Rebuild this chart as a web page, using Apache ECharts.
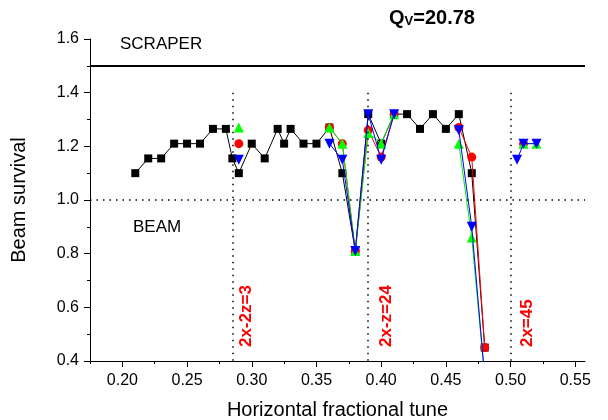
<!DOCTYPE html>
<html><head><meta charset="utf-8">
<script src="https://cdn.jsdelivr.net/npm/echarts@6/dist/echarts.min.js"></script>
<style>html,body{margin:0;padding:0;background:#fff}#c{width:608px;height:420px}</style>
</head><body><div id="c"></div>
<script>
// ---- data ----
var tuneBlack = [0.21,0.22,0.23,0.24,0.25,0.26,0.27,0.28,0.285,0.29,0.30,0.31,0.32,0.325,0.33,0.34,0.35,0.36,0.37,0.38,0.39,0.40,0.41,0.42,0.43,0.44,0.45,0.46,0.47,0.48];
var survBlack = [1.10,1.155,1.155,1.21,1.21,1.21,1.265,1.265,1.155,1.10,1.21,1.155,1.265,1.21,1.265,1.21,1.21,1.27,1.10,0.81,1.32,1.21,1.32,1.32,1.265,1.32,1.265,1.32,1.10,0.45];
var tuneRed = [0.29,0.33,0.36,0.37,0.38,0.39,0.40,0.41,0.44,0.46,0.47,0.48,0.50,0.51];
var survRed = [1.21,null,1.27,1.21,0.81,1.26,1.16,1.32,null,1.27,1.16,0.45,null,1.21];
var tuneGreen = [0.29,0.33,0.36,0.37,0.38,0.39,0.40,0.41,0.44,0.46,0.47,0.48,0.50,0.51,0.52];
var survGreen = [1.27,null,1.27,1.21,0.81,1.25,1.21,1.32,null,1.21,0.86,0.34,null,1.21,1.21];
var tuneBlue = [0.29,0.33,0.36,0.37,0.38,0.39,0.40,0.41,0.44,0.46,0.47,0.48,0.50,0.505,0.51,0.52];
var survBlue = [1.15,null,1.21,1.15,0.81,1.32,1.15,1.32,null,1.26,0.90,0.34,null,1.15,1.21,1.21];
var xTicks = [0.20,0.25,0.30,0.35,0.40,0.45,0.50,0.55];
var xMinorTicks = [0.175,0.225,0.275,0.325,0.375,0.425,0.475,0.525];
var yTicks = [0.4,0.6,0.8,1.0,1.2,1.4,1.6];
var scraperLevel = 1.5;
var beamLevel = 1.0;
var resonanceTunes = [0.285,0.39,0.50];
var resonanceTop = 1.4;
var resonanceLabels = ['2x-2z=3','2x-z=24','2x=45'];
var resonanceLabelTunes = [0.2955,0.4038,0.5132];
var resonanceLabelY = 0.452;

function pairs(xs, ys){ return xs.map(function(x,i){ return [x, ys[i]==null ? '-' : ys[i]]; }); }

var chart = echarts.init(document.getElementById('c'), null, {renderer:'canvas'});
var FONT = 'Arial, "Liberation Sans", sans-serif';
var vlines = resonanceTunes.map(function(t){ return [{coord:[t,resonanceTop]},{coord:[t,0.4]}]; });

chart.setOption({
  animation:false,
  backgroundColor:'#fff',
  textStyle:{fontFamily:FONT},
  grid:{left:90,right:23,top:39,bottom:59,containLabel:false,outerBoundsMode:'none'},
  xAxis:[{
    type:'value', min:0.175, max:0.5575,
    name:'Horizontal fractional tune', nameLocation:'middle', nameGap:39,
    nameTextStyle:{fontSize:20,color:'#000',fontFamily:FONT},
    axisLine:{show:true,lineStyle:{color:'#000',width:1}},
    axisTick:{show:true,customValues:xTicks,length:6,lineStyle:{color:'#000'}},
    axisLabel:{show:true,customValues:xTicks,formatter:function(v){return v.toFixed(2);},fontSize:16,color:'#000',margin:12,fontFamily:FONT},
    splitLine:{show:false}
  },{
    type:'value', min:0.175, max:0.5575, position:'bottom',
    axisLine:{show:false},
    axisTick:{show:true,customValues:xMinorTicks,length:3,lineStyle:{color:'#000'}},
    axisLabel:{show:false},
    splitLine:{show:false}
  }],
  yAxis:{
    type:'value', min:0.4, max:1.6, interval:0.2,
    name:'Beam survival', nameLocation:'middle', nameGap:61,
    nameTextStyle:{fontSize:20,color:'#000',fontFamily:FONT},
    axisLine:{show:true,lineStyle:{color:'#000',width:1}},
    axisTick:{show:true,length:6,lineStyle:{color:'#000'}},
    minorTick:{show:true,splitNumber:2,length:3,lineStyle:{color:'#000'}},
    axisLabel:{formatter:function(v){return v.toFixed(1);},fontSize:16,color:'#000',margin:11,fontFamily:FONT},
    splitLine:{show:false}
  },
  series:[
    {type:'line', data:pairs(tuneBlack,survBlack), symbol:'rect', symbolSize:8,
     itemStyle:{color:'#000'}, lineStyle:{color:'#000',width:1}, z:2,
     markLine:{silent:true, symbol:'none', label:{show:false}, animation:false,
       data:[
         {yAxis:scraperLevel, lineStyle:{color:'#000',width:2,type:'solid'}},
         {yAxis:beamLevel, lineStyle:{color:'#000',width:1.5,type:[1.5,5]}}
       ].concat(vlines.map(function(v){ v[0].lineStyle={color:'#000',width:1.5,type:[1.5,5]}; return v; }))
     }},
    {type:'line', data:pairs(tuneRed,survRed), symbol:'circle', symbolSize:9, connectNulls:false,
     itemStyle:{color:'#ff0000'}, lineStyle:{color:'#ff0000',width:1}, z:3},
    {type:'line', data:pairs(tuneGreen,survGreen), symbol:'triangle', symbolSize:10, connectNulls:false,
     itemStyle:{color:'#00ff00'}, lineStyle:{color:'#00ee00',width:1}, z:4},
    {type:'line', data:pairs(tuneBlue,survBlue), symbol:'triangle', symbolRotate:180, symbolSize:10, connectNulls:false,
     itemStyle:{color:'#0000ff'}, lineStyle:{color:'#0000ff',width:1}, z:5}
  ]
});

var g = [
  {type:'text', left:120, top:36, style:{text:'SCRAPER', fill:'#000', font:'17px '+FONT}},
  {type:'text', left:133, top:219, style:{text:'BEAM', fill:'#000', font:'17px '+FONT}},
  {type:'text', left:389, top:8, style:{
     text:'{q|Q}{s|V}{q|=20.78}',
     rich:{q:{fontSize:20,fontWeight:'bold',fontFamily:FONT,fill:'#000',verticalAlign:'bottom'},
           s:{fontSize:13,fontWeight:'bold',fontFamily:FONT,fill:'#000',padding:[9,0,0,0]}}}}
];
resonanceLabels.forEach(function(t,i){
  var p = chart.convertToPixel({xAxisIndex:0,yAxisIndex:0},[resonanceLabelTunes[i],resonanceLabelY]);
  g.push({type:'text', x:p[0], y:p[1], rotation:Math.PI/2,
    style:{text:t, fill:'#ff0000', font:'bold 17px '+FONT, align:'left', verticalAlign:'middle'}});
});
chart.setOption({graphic:g});
</script>
</body></html>
